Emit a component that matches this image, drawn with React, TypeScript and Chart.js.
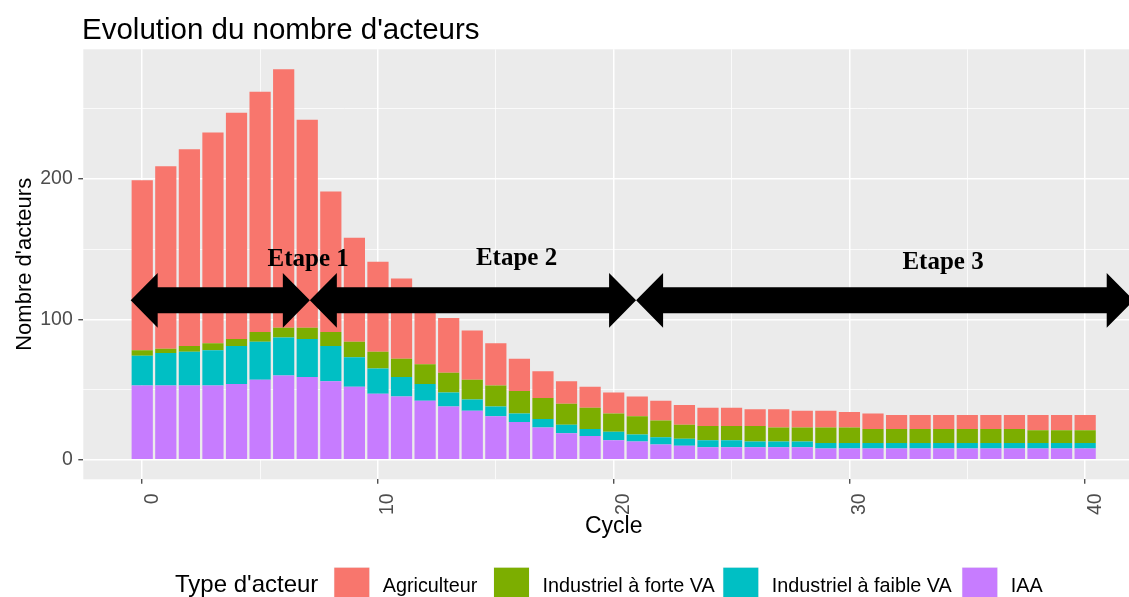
import React, { useEffect, useRef } from "react";
import { Chart, registerables } from "chart.js";

Chart.register(...registerables);

// ---------- Data ----------
const TITLE = "Evolution du nombre d'acteurs";
const X_TITLE = "Cycle";
const Y_TITLE = "Nombre d'acteurs";
const LEGEND_TITLE = "Type d'acteur";

const CYCLES = [
  0, 1, 2, 3, 4, 5, 6, 7, 8, 9, 10, 11, 12, 13, 14, 15, 16, 17, 18, 19, 20,
  21, 22, 23, 24, 25, 26, 27, 28, 29, 30, 31, 32, 33, 34, 35, 36, 37, 38, 39, 40,
];

const SERIES_NAMES = ["Agriculteur", "Industriel à forte VA", "Industriel à faible VA", "IAA"];
const SERIES_COLORS = ["#F8766D", "#7CAE00", "#00BFC4", "#C77CFF"];

const AGRICULTEUR = [
  121, 130, 140, 150, 161, 171, 184, 148, 100, 74,
  64, 57, 46, 39, 35, 30, 23, 19, 16, 15,
  15, 14, 14, 14, 13, 13, 12, 13, 12, 12,
  11, 11, 10, 10, 10, 10, 10, 10, 11, 11, 11,
];
const INDUSTRIEL_FORTE = [
  4, 3, 4, 5, 5, 7, 7, 8, 10, 11,
  12, 13, 14, 14, 14, 15, 16, 15, 15, 15,
  13, 13, 12, 10, 10, 10, 11, 10, 10, 11,
  11, 10, 10, 10, 10, 10, 10, 10, 9, 9, 9,
];
const INDUSTRIEL_FAIBLE = [
  21, 23, 24, 25, 27, 27, 27, 27, 25, 21,
  18, 14, 12, 10, 8, 7, 6, 6, 6, 5,
  6, 5, 5, 5, 5, 5, 4, 4, 4, 4,
  4, 4, 4, 4, 4, 4, 4, 4, 4, 4, 4,
];
const IAA = [
  53, 53, 53, 53, 54, 57, 60, 59, 56, 52,
  47, 45, 42, 38, 35, 31, 27, 23, 19, 17,
  14, 13, 11, 10, 9, 9, 9, 9, 9, 8,
  8, 8, 8, 8, 8, 8, 8, 8, 8, 8, 8,
];

const X_TICKS = [0, 5, 10, 15, 20, 25, 30, 35, 40];
const X_TICK_LABELS = [0, 10, 20, 30, 40];
const Y_TICKS = [0, 50, 100, 150, 200, 250];
const Y_TICK_LABELS = [0, 100, 200];

// Annotation (stages): arrow boundaries in cycle units, arrow level in actor units
const STAGE_LABELS = ["Etape 1", "Etape 2", "Etape 3"];
const STAGE_BOUNDS = [-0.49, 7.11, 20.95, 42.06];
const STAGE_ARROW_Y = 113.5;
const STAGE_LABEL_X = [7.04, 15.88, 33.97];
const STAGE_LABEL_Y = [137.9, 138.6, 135.6];

// ---------- Style / layout ----------
const SANS = '"Liberation Sans", Arial, sans-serif';
const SERIF = '"Liberation Serif", "Times New Roman", serif';
const PANEL_BG = "#EBEBEB";
const TICK_TEXT = "#4D4D4D";

const decorPlugin = {
  id: "decor",
  beforeDraw(chart: any) {
    const { ctx, chartArea } = chart;
    ctx.save();
    ctx.fillStyle = "#FFFFFF";
    ctx.fillRect(0, 0, chart.width, chart.height);
    ctx.fillStyle = PANEL_BG;
    ctx.fillRect(chartArea.left, chartArea.top, chartArea.right - chartArea.left, chartArea.bottom - chartArea.top);
    ctx.restore();
  },
  afterDraw(chart: any) {
    const { ctx, chartArea } = chart;
    const xs = chart.scales.x;
    const ys = chart.scales.y;
    ctx.save();

    // Double-headed arrows
    const yc = ys.getPixelForValue(STAGE_ARROW_Y);
    const hl = 27; // head length
    const hh = 27.4; // head half height
    const hb = 13; // body half height
    ctx.fillStyle = "#000000";
    for (let i = 0; i < STAGE_LABELS.length; i++) {
      const x1 = xs.getPixelForValue(STAGE_BOUNDS[i]);
      const x2 = xs.getPixelForValue(STAGE_BOUNDS[i + 1]);
      ctx.beginPath();
      ctx.moveTo(x1, yc);
      ctx.lineTo(x1 + hl, yc - hh);
      ctx.lineTo(x1 + hl, yc - hb);
      ctx.lineTo(x2 - hl, yc - hb);
      ctx.lineTo(x2 - hl, yc - hh);
      ctx.lineTo(x2, yc);
      ctx.lineTo(x2 - hl, yc + hh);
      ctx.lineTo(x2 - hl, yc + hb);
      ctx.lineTo(x1 + hl, yc + hb);
      ctx.lineTo(x1 + hl, yc + hh);
      ctx.closePath();
      ctx.fill();
    }

    // Stage labels
    ctx.font = `bold 25px ${SERIF}`;
    ctx.textAlign = "center";
    ctx.textBaseline = "alphabetic";
    for (let i = 0; i < STAGE_LABELS.length; i++) {
      ctx.fillText(STAGE_LABELS[i], xs.getPixelForValue(STAGE_LABEL_X[i]), ys.getPixelForValue(STAGE_LABEL_Y[i]));
    }

    // Title
    ctx.font = `29.5px ${SANS}`;
    ctx.textAlign = "left";
    ctx.fillStyle = "#000000";
    ctx.fillText(TITLE, chartArea.left - 1.3, 38.6);

    // X axis title (centred on the full panel)
    ctx.font = `23px ${SANS}`;
    ctx.textAlign = "center";
    ctx.fillText(X_TITLE, xs.getPixelForValue(20), 533);

    // Legend
    ctx.textAlign = "left";
    ctx.font = `24px ${SANS}`;
    ctx.fillText(LEGEND_TITLE, 175, 591.5);
    const keyX = [334.3, 494, 723.3, 962.3];
    ctx.font = `19.8px ${SANS}`;
    for (let i = 0; i < SERIES_NAMES.length; i++) {
      ctx.fillStyle = "#F2F2F2";
      ctx.fillRect(keyX[i] - 0.5, 567.2, 36, 36);
      ctx.fillStyle = SERIES_COLORS[i];
      ctx.fillRect(keyX[i], 567.7, 35, 35);
      ctx.fillStyle = "#000000";
      ctx.fillText(SERIES_NAMES[i], keyX[i] + 48.5, 591.5);
    }
    ctx.restore();
  },
};

export default function App() {
  const canvasRef = useRef<HTMLCanvasElement | null>(null);

  useEffect(() => {
    const canvas = canvasRef.current;
    if (!canvas) return;

    const barCommon = { barPercentage: 0.9, categoryPercentage: 1, borderWidth: 0 };
    const datasets = [
      { label: SERIES_NAMES[3], data: IAA, backgroundColor: SERIES_COLORS[3], ...barCommon },
      { label: SERIES_NAMES[2], data: INDUSTRIEL_FAIBLE, backgroundColor: SERIES_COLORS[2], ...barCommon },
      { label: SERIES_NAMES[1], data: INDUSTRIEL_FORTE, backgroundColor: SERIES_COLORS[1], ...barCommon },
      { label: SERIES_NAMES[0], data: AGRICULTEUR, backgroundColor: SERIES_COLORS[0], ...barCommon },
    ];

    const chart = new Chart(canvas, {
      type: "bar",
      data: { labels: CYCLES, datasets },
      options: {
        responsive: false,
        animation: false,
        events: [],
        layout: { padding: { top: 49.3, left: 0, right: 0, bottom: 0 } },
        plugins: {
          legend: { display: false },
          title: { display: false },
          tooltip: { enabled: false },
        },
        scales: {
          x: {
            type: "linear",
            stacked: true,
            offset: false,
            bounds: "data",
            min: -2.5,
            max: 41.86,
            afterBuildTicks: (s: any) => {
              s.ticks = X_TICKS.map((v) => ({ value: v }));
            },
            afterFit: (s: any) => {
              s.height = 117.7;
            },
            border: { display: false },
            grid: {
              offset: false,
              color: "#FFFFFF",
              lineWidth: (c: any) => (X_TICK_LABELS.includes(c.tick?.value) ? 1.5 : 0.75),
              drawTicks: true,
              tickLength: 4.5,
              tickWidth: 1.2,
              tickColor: (c: any) => (X_TICK_LABELS.includes(c.tick?.value) ? "#333333" : "rgba(0,0,0,0)"),
            },
            ticks: {
              autoSkip: false,
              minRotation: 90,
              maxRotation: 90,
              padding: 9.5,
              labelOffset: 10,
              color: TICK_TEXT,
              font: { family: SANS, size: 19.5 },
              callback: (v: any) => (X_TICK_LABELS.includes(Number(v)) ? String(v) : ""),
            },
          },
          y: {
            type: "linear",
            stacked: true,
            bounds: "data",
            min: -13.85,
            max: 292.2,
            afterBuildTicks: (s: any) => {
              s.ticks = Y_TICKS.map((v) => ({ value: v }));
            },
            afterFit: (s: any) => {
              s.width = 83.3;
            },
            border: { display: false },
            grid: {
              color: "#FFFFFF",
              lineWidth: (c: any) => (Y_TICK_LABELS.includes(c.tick?.value) ? 1.5 : 0.75),
              drawTicks: true,
              tickLength: 5,
              tickWidth: 1.2,
              tickColor: (c: any) => (Y_TICK_LABELS.includes(c.tick?.value) ? "#333333" : "rgba(0,0,0,0)"),
            },
            ticks: {
              autoSkip: false,
              padding: 5.5,
              color: TICK_TEXT,
              font: { family: SANS, size: 19.5 },
              callback: (v: any) => (Y_TICK_LABELS.includes(Number(v)) ? String(v) : ""),
            },
            title: {
              display: true,
              text: Y_TITLE,
              color: "#000000",
              font: { family: SANS, size: 22 },
              padding: { top: 11.5, bottom: 0 },
            },
          },
        },
      } as any,
      plugins: [decorPlugin],
    });

    return () => {
      chart.destroy();
    };
  }, []);

  return (
    <div style={{ position: "absolute", left: 0, top: 0, width: 1129, height: 597, background: "#FFFFFF" }}>
      <canvas ref={canvasRef} width={1129} height={597} style={{ display: "block" }} />
    </div>
  );
}
